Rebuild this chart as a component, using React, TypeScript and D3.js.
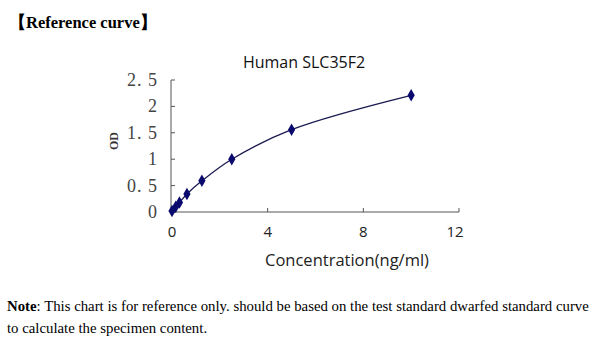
import React from "react";
import * as d3 from "d3";

const concentrations = [0, 0.156, 0.312, 0.625, 1.25, 2.5, 5, 10];
const odValues = [0.02, 0.1, 0.18, 0.34, 0.59, 1.0, 1.56, 2.21];
const xTicks = [0, 4, 8, 12];
const yTicks = [0, 0.5, 1, 1.5, 2, 2.5];
const yTickLabels = ["0", "0. 5", "1", "1. 5", "2", "2. 5"];

export default function App() {
  const x = d3.scaleLinear().domain([0, 12]).range([172, 459]);
  const y = d3.scaleLinear().domain([0, 2.5]).range([212, 80]);
  const pts: [number, number][] = concentrations.map((c, i) => [c, odValues[i]]);
  const line = d3
    .line<[number, number]>()
    .x((d) => x(d[0]))
    .y((d) => y(d[1]))
    .curve(d3.curveCatmullRom.alpha(0.5));
  const diamond = d3.symbol().type(d3.symbolDiamond).size(45)();
  const navy = "#0a0a6e";
  return (
    <svg
      width={600}
      height={352}
      style={{ position: "absolute", left: 0, top: 0, background: "#fff" }}
    >
      <text x={9} y={28} fontFamily="Liberation Serif" fontWeight="bold" fontSize={16.5} fill="#000">
        【Reference curve】
      </text>
      <text x={304} y={68} textAnchor="middle" fontFamily="Open Sans" fontSize={16} fill="#111">
        Human SLC35F2
      </text>
      {/* y axis */}
      <line x1={x(0) - 1} x2={x(0) - 1} y1={y(2.5)} y2={y(0)} stroke="#555" strokeWidth={1} />
      {yTicks.map((t, i) => (
        <g key={"yt" + i}>
          <line x1={x(0) - 1} x2={x(0) + 3} y1={y(t)} y2={y(t)} stroke="#555" />
          <text
            x={x(0) - 14}
            y={y(t) + 6}
            textAnchor="end"
            fontFamily="Liberation Serif"
            fontSize={18}
            letterSpacing={1}
            fill="#444"
          >
            {yTickLabels[i]}
          </text>
        </g>
      ))}
      {/* x axis */}
      <line x1={x(0) - 1} x2={x(12)} y1={y(0)} y2={y(0)} stroke="#555" strokeWidth={1} />
      {xTicks.map((t) => (
        <g key={"xt" + t}>
          <line x1={x(t)} x2={x(t)} y1={y(0)} y2={y(0) - 4} stroke="#555" />
          <text
            x={x(t) - (t === 12 ? 4 : 0)}
            y={y(0) + 25}
            textAnchor="middle"
            fontFamily="Open Sans"
            fontSize={15}
            fill="#222"
          >
            {t}
          </text>
        </g>
      ))}
      <text
        transform={`translate(118,${141}) rotate(-90)`}
        textAnchor="middle"
        fontFamily="Liberation Serif"
        fontSize={12}
        fontWeight="bold"
        fill="#333"
      >
        OD
      </text>
      <text x={347} y={266} textAnchor="middle" fontFamily="Open Sans" fontSize={16.5} fill="#222">
        Concentration(ng/ml)
      </text>
      <path d={line(pts) || ""} fill="none" stroke="#1a1a50" strokeWidth={1.3} />
      {pts.map((p, i) => (
        <path key={"p" + i} d={diamond || ""} transform={`translate(${x(p[0])},${y(p[1])})`} fill={navy} />
      ))}
      <text x={7} y={311} fontFamily="Liberation Serif" fontSize={14.8} fill="#000">
        <tspan fontWeight="bold">Note</tspan>
        <tspan>: This chart is for reference only. should be based on the test standard dwarfed standard curve</tspan>
      </text>
      <text x={7} y={333} fontFamily="Liberation Serif" fontSize={14.8} fill="#000">
        to calculate the specimen content.
      </text>
    </svg>
  );
}
